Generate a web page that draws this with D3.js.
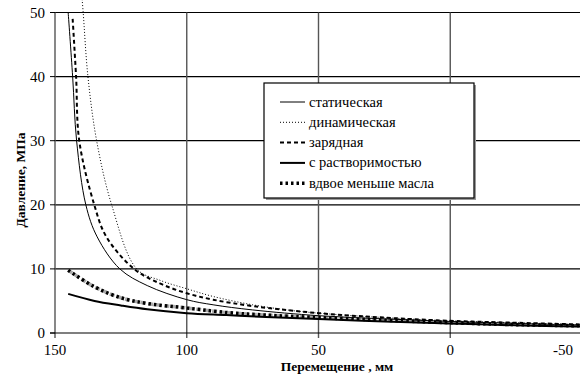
<!DOCTYPE html>
<html>
<head>
<meta charset="utf-8">
<script src="https://cdn.jsdelivr.net/npm/d3@7"></script>
</head>
<body style="margin:0; background:#fff">
<div id="chart"></div>
<script>
// series: [displacement mm, pressure MPa]
var staticheskaya = [[145, 50], [143.3, 40], [141.8, 30], [138.3, 20], [134, 15], [125.4, 10], [115, 7.4], [100, 5.2], [90, 4.4], [75, 3.6], [50, 2.7], [25, 2.2], [0, 1.8], [-25, 1.5], [-52, 1.2]];
var dinamicheskaya = [[139.9, 53], [139.3, 50], [137.5, 40], [134.2, 30], [128.5, 20], [119, 10], [110, 8.2], [100, 6.9], [90, 5.7], [75, 4.4], [60, 3.5], [50, 3.1], [25, 2.4], [0, 1.9], [-25, 1.6], [-52, 1.3]];
var zaryadnaya = [[143.3, 49], [142, 40], [140.8, 30], [135.1, 20], [130.5, 15], [120, 10], [110, 7.7], [100, 6.2], [90, 5.2], [75, 4.2], [50, 3.1], [25, 2.4], [0, 1.9], [-25, 1.6], [-52, 1.3]];
var rastvorimost = [[145, 6.1], [135, 5.0], [125, 4.3], [115, 3.7], [100, 3.1], [85, 2.8], [70, 2.5], [50, 2.2], [25, 1.8], [0, 1.5], [-25, 1.2], [-52, 1.0]];
var vdvoe = [[145, 9.8], [135, 7.2], [125, 5.5], [115, 4.6], [100, 3.9], [85, 3.2], [70, 2.8], [50, 2.4], [25, 2.0], [0, 1.6], [-25, 1.3], [-52, 1.1]];

var seriesNames = ["статическая", "динамическая", "зарядная", "с растворимостью", "вдвое меньше масла"];
var xTicks = [150, 100, 50, 0, -50];
var yTicks = [0, 10, 20, 30, 40, 50];

var width = 580, height = 376;
var serif = "'Liberation Serif', serif";

var series = [
    { name: seriesNames[0], data: staticheskaya, width: 1, dash: null },
    { name: seriesNames[1], data: dinamicheskaya, width: 1, dash: "1,2" },
    { name: seriesNames[2], data: zaryadnaya, width: 2, dash: "4,3" },
    { name: seriesNames[3], data: rastvorimost, width: 2, dash: null },
    { name: seriesNames[4], data: vdvoe, width: 3.5, dash: "2.5,3" }
];

var x = d3.scaleLinear().domain([150, -50]).range([55, 582]);
var y = d3.scaleLinear().domain([0, 50]).range([333, 12.5]);

var svg = d3.select("#chart").append("svg")
    .attr("width", width)
    .attr("height", height)
    .style("display", "block");

// gridlines
svg.selectAll(".hgrid")
    .data(yTicks.filter(function (d) { return d > 0; }))
    .enter().append("line")
    .attr("x1", x(150)).attr("x2", width)
    .attr("y1", function (d) { return y(d); })
    .attr("y2", function (d) { return y(d); })
    .attr("stroke", "#000").attr("stroke-width", 1.2);

svg.selectAll(".vgrid")
    .data([100, 50, 0])
    .enter().append("line")
    .attr("x1", function (d) { return x(d); })
    .attr("x2", function (d) { return x(d); })
    .attr("y1", y(50)).attr("y2", y(0) + 5)
    .attr("stroke", "#555").attr("stroke-width", 1.4);

// axes lines
svg.append("line")
    .attr("x1", x(150)).attr("x2", x(150))
    .attr("y1", y(50)).attr("y2", y(0) + 5)
    .attr("stroke", "#555").attr("stroke-width", 1.4);
svg.append("line")
    .attr("x1", x(150) - 5).attr("x2", width)
    .attr("y1", y(0)).attr("y2", y(0))
    .attr("stroke", "#000").attr("stroke-width", 1.2);

// y tick marks and labels
svg.selectAll(".ytick")
    .data(yTicks)
    .enter().append("line")
    .attr("x1", x(150) - 5).attr("x2", x(150))
    .attr("y1", function (d) { return y(d); })
    .attr("y2", function (d) { return y(d); })
    .attr("stroke", "#000");

svg.selectAll(".ylab")
    .data(yTicks)
    .enter().append("text")
    .attr("x", 45)
    .attr("y", function (d) { return y(d) + 5; })
    .attr("text-anchor", "end")
    .style("font-family", serif)
    .style("font-size", "15px")
    .text(function (d) { return d; });

svg.selectAll(".xlab")
    .data(xTicks)
    .enter().append("text")
    .attr("x", function (d) { return Math.min(x(d), 563); })
    .attr("y", 355)
    .attr("text-anchor", "middle")
    .style("font-family", serif)
    .style("font-size", "15px")
    .text(function (d) { return d; });

// axis titles
svg.append("text")
    .attr("x", 337).attr("y", 371)
    .attr("text-anchor", "middle")
    .style("font-family", serif)
    .style("font-size", "13.5px")
    .style("font-weight", "bold")
    .text("Перемещение , мм");

svg.append("text")
    .attr("transform", "translate(25,180) rotate(-90)")
    .attr("text-anchor", "middle")
    .style("font-family", serif)
    .style("font-size", "13.5px")
    .style("font-weight", "bold")
    .text("Давление, МПа");

// curves
var line = d3.line()
    .x(function (d) { return x(d[0]); })
    .y(function (d) { return y(d[1]); })
    .curve(d3.curveCatmullRom.alpha(0.5));

// grey smear under the thick dotted line
svg.append("path")
    .attr("d", line(vdvoe))
    .attr("fill", "none")
    .attr("stroke", "#aaa")
    .attr("stroke-width", 3.5)
    .attr("stroke-dasharray", "5,3");

svg.selectAll(".curve")
    .data(series)
    .enter().append("path")
    .attr("d", function (d) { return line(d.data); })
    .attr("fill", "none")
    .attr("stroke", "#000")
    .attr("stroke-width", function (d) { return d.width; })
    .attr("stroke-dasharray", function (d) { return d.dash; });

// legend
var lx = 264, ly = 83, lw = 210, lh = 115;
svg.append("rect")
    .attr("x", lx + 2).attr("y", ly + 2)
    .attr("width", lw).attr("height", lh)
    .attr("fill", "#999");
svg.append("rect")
    .attr("x", lx).attr("y", ly)
    .attr("width", lw).attr("height", lh)
    .attr("fill", "#fff")
    .attr("stroke", "#000").attr("stroke-width", 1.2);

var legend = svg.selectAll(".legend")
    .data(series)
    .enter().append("g")
    .attr("transform", function (d, i) {
        return "translate(" + (lx + 16) + "," + (ly + 19 + i * 20.3) + ")";
    });

legend.append("line")
    .attr("x1", 0).attr("x2", 25)
    .attr("stroke", "#000")
    .attr("stroke-width", function (d) { return d.width; })
    .attr("stroke-dasharray", function (d) { return d.dash; });

legend.append("text")
    .attr("x", 29).attr("y", 4.5)
    .style("font-family", serif)
    .style("font-size", "14.5px")
    .text(function (d) { return d.name; });
</script>
</body>
</html>
